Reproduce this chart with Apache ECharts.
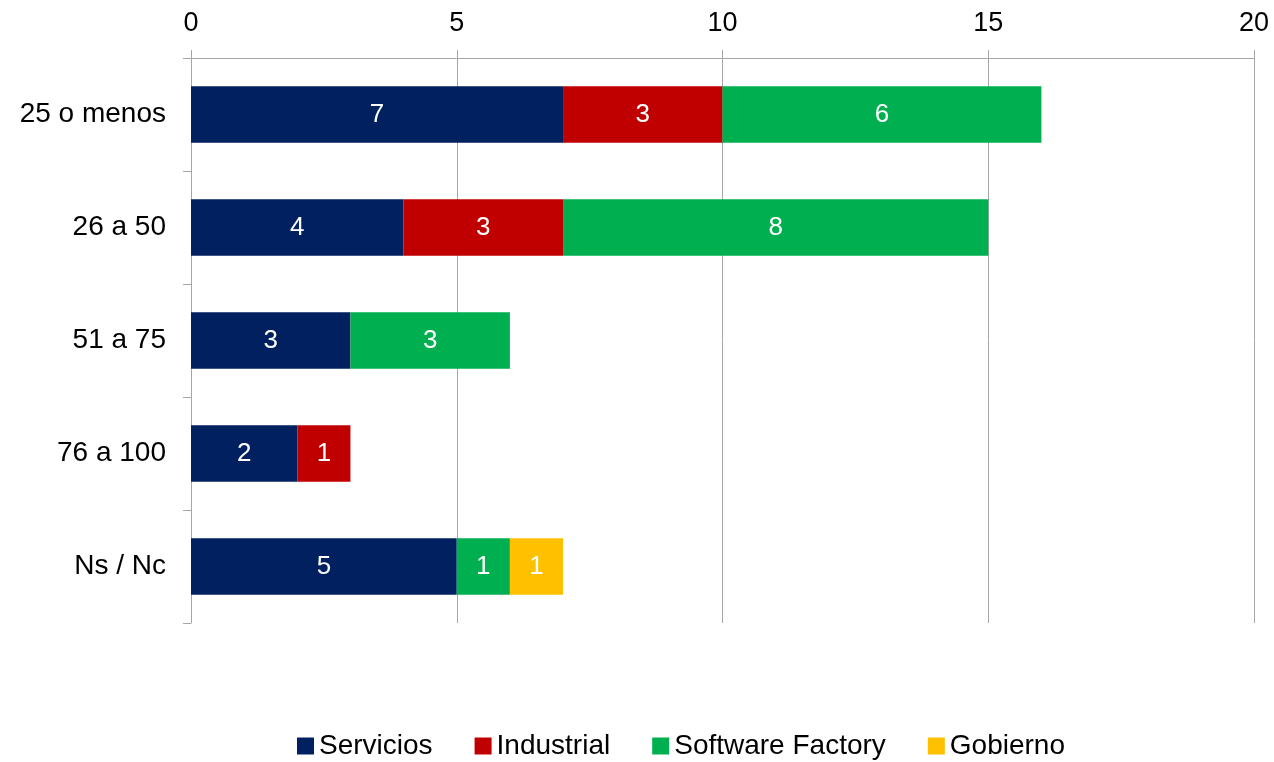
<!DOCTYPE html>
<html>
<head>
<meta charset="utf-8">
<script src="https://cdn.jsdelivr.net/npm/echarts@6/dist/echarts.min.js"></script>
<style>
  html, body { margin: 0; padding: 0; background: #fff; }
  #chart { width: 1274px; height: 762px; }
</style>
</head>
<body>
<div id="chart"></div>
<script>
// Company size ranges (rows, top to bottom)
const categories = ['25 o menos', '26 a 50', '51 a 75', '76 a 100', 'Ns / Nc'];

// Counts per sector for each range
const servicios       = [7, 4, 3, 2, 5];
const industrial      = [3, 3, null, 1, null];
const softwareFactory = [6, 8, 3, null, 1];
const gobierno        = [null, null, null, null, 1];

const seriesNames  = ['Servicios', 'Industrial', 'Software Factory', 'Gobierno'];
const seriesColors = ['#002060', '#C00000', '#00B050', '#FFC000'];
const seriesData   = [servicios, industrial, softwareFactory, gobierno];

const fontFamily = '"Liberation Sans", Arial, sans-serif';
const axisGray = '#A6A6A6';

const chart = echarts.init(document.getElementById('chart'));

chart.setOption({
  animation: false,
  textStyle: { fontFamily: fontFamily },
  grid: { left: 191, right: 20, top: 58, bottom: 139, containLabel: false },
  legend: {
    top: 727,
    left: 292,
    itemWidth: 17,
    itemHeight: 17,
    itemGap: 42,
    icon: 'rect',
    textStyle: { fontSize: 28, color: '#000', fontFamily: fontFamily },
    data: seriesNames
  },
  xAxis: {
    type: 'value',
    position: 'top',
    min: 0,
    max: 20,
    interval: 5,
    axisLine: { show: true, lineStyle: { color: axisGray, width: 1 } },
    axisTick: { show: true, length: 8, lineStyle: { color: axisGray } },
    axisLabel: { fontSize: 27, color: '#000', margin: 21 },
    splitLine: { show: true, lineStyle: { color: axisGray, width: 1 } }
  },
  yAxis: {
    type: 'category',
    inverse: true,
    data: categories,
    axisLine: { show: true, lineStyle: { color: axisGray, width: 1 } },
    axisTick: { show: true, length: 8, lineStyle: { color: axisGray } },
    axisLabel: { fontSize: 28, color: '#000', margin: 25 }
  },
  series: seriesNames.map((name, i) => ({
    name: name,
    type: 'bar',
    stack: 'total',
    barWidth: '50%',
    itemStyle: { color: seriesColors[i] },
    label: {
      show: true,
      position: 'inside',
      color: '#fff',
      fontSize: 26,
      fontFamily: fontFamily
    },
    data: seriesData[i]
  }))
});
</script>
</body>
</html>
